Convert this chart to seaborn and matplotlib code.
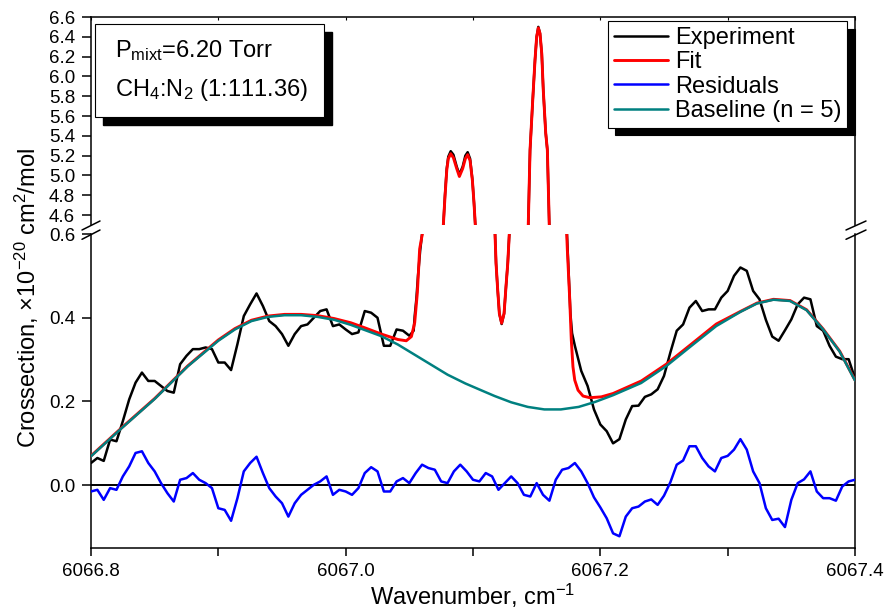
import numpy as np
import matplotlib
matplotlib.use("Agg")
import matplotlib.pyplot as plt
import seaborn as sns
from matplotlib.lines import Line2D
from matplotlib.patches import Rectangle
from matplotlib.ticker import FormatStrFormatter

W, H = 888, 610

# --- data -------------------------------------------------------------------
# sampling grid of the spectrum, 0.005 cm-1 step
wn_grid = np.linspace(6066.8, 6067.4, 121)

# experiment outside the absorption lines
exp_left = [0.053, 0.065, 0.058, 0.109, 0.105, 0.153, 0.205, 0.245, 0.269, 0.249,
            0.249, 0.237, 0.225, 0.221, 0.289, 0.309, 0.325, 0.325, 0.329, 0.325,
            0.293, 0.293, 0.275, 0.337, 0.404, 0.432, 0.458, 0.428, 0.392, 0.380,
            0.361, 0.333, 0.361, 0.380, 0.384, 0.400, 0.416, 0.420, 0.380, 0.384,
            0.372, 0.361, 0.365, 0.416, 0.412, 0.400, 0.333, 0.333, 0.372, 0.369,
            0.357]
exp_right = [0.333, 0.273, 0.237, 0.181, 0.145, 0.129, 0.100, 0.110, 0.157, 0.189,
             0.190, 0.211, 0.217, 0.229, 0.261, 0.317, 0.369, 0.384, 0.424, 0.440,
             0.416, 0.420, 0.420, 0.448, 0.464, 0.500, 0.520, 0.512, 0.464, 0.444,
             0.395, 0.355, 0.345, 0.370, 0.396, 0.432, 0.448, 0.444, 0.380, 0.369,
             0.333, 0.307, 0.301, 0.301, 0.255]

# experiment across the lines
peak_wn = [6067.0534, 6067.0542, 6067.0555, 6067.0568, 6067.0585, 6067.0600,
           6067.0767, 6067.0780, 6067.0794, 6067.0806, 6067.0825, 6067.0846,
           6067.0872, 6067.0893, 6067.0919, 6067.0940, 6067.0958, 6067.0977,
           6067.0995, 6067.1008, 6067.1018,
           6067.1173, 6067.1181, 6067.1194, 6067.1207, 6067.1225, 6067.1244,
           6067.1259, 6067.1273, 6067.1285,
           6067.1434, 6067.1448, 6067.1469, 6067.1487, 6067.1500, 6067.1513,
           6067.1526, 6067.1540, 6067.1552, 6067.1571, 6067.1584, 6067.1599,
           6067.1738, 6067.1752, 6067.1765, 6067.1778]
peak_exp = [0.369, 0.404, 0.444, 0.500, 0.560, 0.600,
            4.5, 4.80, 5.07, 5.19, 5.245, 5.21, 5.09, 5.01, 5.09, 5.20, 5.235, 5.17,
            4.96, 4.72, 4.5,
            0.6, 0.53, 0.466, 0.41, 0.385, 0.41, 0.474, 0.53, 0.6,
            4.5, 5.257, 5.76, 6.166, 6.40, 6.50, 6.435, 6.23, 5.86, 5.43, 5.257, 4.5,
            0.6, 0.50, 0.41, 0.363]

fit_wn = [6066.800, 6066.824, 6066.850, 6066.876, 6066.900, 6066.913, 6066.926,
          6066.939, 6066.952, 6066.965, 6066.978, 6066.991, 6067.004, 6067.015,
          6067.028, 6067.041, 6067.0476, 6067.0516, 6067.0542, 6067.0563,
          6067.0581, 6067.0602,
          6067.0767, 6067.0780, 6067.0794, 6067.0806, 6067.0825, 6067.0846,
          6067.0872, 6067.0893, 6067.0919, 6067.0940, 6067.0958, 6067.0977,
          6067.0995, 6067.1008, 6067.1018,
          6067.1173, 6067.1181, 6067.1194, 6067.1207, 6067.1225, 6067.1244,
          6067.1259, 6067.1273, 6067.1285,
          6067.1434, 6067.1448, 6067.1469, 6067.1487, 6067.1500, 6067.1513,
          6067.1526, 6067.1540, 6067.1552, 6067.1571, 6067.1584, 6067.1599,
          6067.1736, 6067.1741, 6067.1760, 6067.1772, 6067.1785, 6067.1799,
          6067.1825, 6067.1864, 6067.1917, 6067.2008, 6067.2100, 6067.2322,
          6067.2518, 6067.2715, 6067.2911, 6067.310, 6067.323, 6067.336,
          6067.349, 6067.362, 6067.375, 6067.388, 6067.400]
fit_val = [0.070, 0.137, 0.207, 0.285, 0.347, 0.374, 0.394,
           0.404, 0.408, 0.408, 0.405, 0.398, 0.388, 0.376,
           0.361, 0.348, 0.345, 0.355, 0.388, 0.460,
           0.564, 0.600,
           4.5, 4.786, 5.055, 5.17, 5.22, 5.18, 5.07, 4.99, 5.07, 5.17, 5.21, 5.15,
           4.954, 4.72, 4.5,
           0.6, 0.53, 0.466, 0.41, 0.387, 0.41, 0.474, 0.53, 0.6,
           4.5, 5.257, 5.76, 6.166, 6.40, 6.49, 6.435, 6.23, 5.86, 5.43, 5.257, 4.5,
           0.600, 0.562, 0.442, 0.347, 0.283, 0.251,
           0.227, 0.213, 0.209, 0.211, 0.219, 0.249,
           0.289, 0.337, 0.385, 0.415, 0.435, 0.444,
           0.441, 0.419, 0.373, 0.320, 0.251]

residuals = [-0.015, -0.011, -0.035, -0.007, -0.011, 0.021, 0.045, 0.077, 0.081, 0.053,
             0.033, 0.005, -0.019, -0.039, 0.013, 0.017, 0.029, 0.013, 0.005, -0.007,
             -0.055, -0.059, -0.085, -0.031, 0.033, 0.053, 0.068, 0.029, -0.007, -0.027,
             -0.043, -0.075, -0.043, -0.023, -0.011, 0.001, 0.009, 0.021, -0.023, -0.011,
             -0.015, -0.023, -0.007, 0.029, 0.043, 0.033, -0.015, -0.015, 0.009, 0.017,
             0.005, 0.029, 0.049, 0.041, 0.037, 0.009, 0.005, 0.033, 0.049, 0.033,
             0.013, 0.009, 0.029, 0.021, -0.011, 0.005, 0.021, 0.005, -0.023, -0.027,
             0.005, -0.023, -0.037, 0.013, 0.037, 0.041, 0.053, 0.033, 0.005, -0.029,
             -0.053, -0.079, -0.115, -0.122, -0.075, -0.055, -0.051, -0.039, -0.034, -0.047,
             -0.025, 0.007, 0.049, 0.059, 0.093, 0.093, 0.065, 0.045, 0.033, 0.065,
             0.070, 0.085, 0.110, 0.085, 0.033, 0.005, -0.055, -0.083, -0.080, -0.100,
             -0.035, 0.005, 0.014, 0.033, -0.015, -0.031, -0.031, -0.037, -0.003, 0.009,
             0.013]

base_wn = [6066.800, 6066.824, 6066.850, 6066.876, 6066.900, 6066.913, 6066.926,
           6066.939, 6066.952, 6066.965, 6066.978, 6066.991, 6067.004, 6067.028,
           6067.041, 6067.054, 6067.067, 6067.080, 6067.094, 6067.107, 6067.117,
           6067.130, 6067.143, 6067.156, 6067.169, 6067.183, 6067.196, 6067.210,
           6067.232, 6067.252, 6067.272, 6067.291, 6067.310, 6067.323, 6067.336,
           6067.349, 6067.362, 6067.375, 6067.388, 6067.400]
base_val = [0.069, 0.136, 0.206, 0.284, 0.345, 0.372, 0.392,
            0.402, 0.406, 0.406, 0.402, 0.395, 0.383, 0.356,
            0.336, 0.312, 0.288, 0.264, 0.243, 0.226, 0.213,
            0.198, 0.187, 0.181, 0.181, 0.187, 0.199, 0.215,
            0.244, 0.285, 0.334, 0.380, 0.414, 0.434, 0.443,
            0.440, 0.418, 0.372, 0.319, 0.250]

x_major = [6066.8, 6067.0, 6067.2, 6067.4]
x_all = [6066.8, 6066.9, 6067.0, 6067.1, 6067.2, 6067.3, 6067.4]
y_up_ticks = [4.6, 4.8, 5.0, 5.2, 5.4, 5.6, 5.8, 6.0, 6.2, 6.4, 6.6]
y_lo_ticks = [0.0, 0.2, 0.4, 0.6]

legend_labels = ["Experiment", "Fit", "Residuals", "Baseline (n = 5)"]
colors = ["black", "red", "blue", "#008080"]
widths = [1.8, 2.1, 1.8, 1.8]

exp_wn = np.concatenate([wn_grid[:51], peak_wn, wn_grid[76:]])
exp_val = np.concatenate([exp_left, peak_exp, exp_right])

# --- style --------------------------------------------------------------------
sns.set_theme(style="ticks", rc={"axes.edgecolor": "black", "xtick.color": "black",
                                 "ytick.color": "black", "text.color": "black",
                                 "axes.labelcolor": "black"})
plt.rcParams["font.family"] = ["Liberation Sans", "DejaVu Sans"]
plt.rcParams["mathtext.fontset"] = "custom"
plt.rcParams["mathtext.rm"] = "Liberation Sans"
plt.rcParams["mathtext.it"] = "Liberation Sans:italic"
plt.rcParams["mathtext.bf"] = "Liberation Sans:bold"


def fx(px):
    return px / W


def fy(py):
    return 1 - py / H


fig = plt.figure(figsize=(W / 100, H / 100), dpi=100)
ax_up = fig.add_axes([fx(91), fy(225), (855 - 91) / W, (225 - 17) / H])
ax_lo = fig.add_axes([fx(91), fy(548), (855 - 91) / W, (548 - 234) / H])

line_kw = dict(sort=False, estimator=None, errorbar=None)
for ax in (ax_up, ax_lo):
    sns.lineplot(x=exp_wn, y=exp_val, ax=ax, color=colors[0], lw=widths[0], zorder=3, **line_kw)
    sns.lineplot(x=fit_wn, y=fit_val, ax=ax, color=colors[1], lw=widths[1], zorder=4, **line_kw)
ax_lo.axhline(0, color="black", lw=1.4, zorder=2)
sns.lineplot(x=wn_grid, y=residuals, ax=ax_lo, color=colors[2], lw=widths[2], zorder=5, **line_kw)
sns.lineplot(x=base_wn, y=base_val, ax=ax_lo, color=colors[3], lw=widths[3], zorder=6, **line_kw)

for ax in (ax_up, ax_lo):
    ax.set_xlim(6066.8, 6067.4)
    ax.set_xlabel("")
    ax.set_ylabel("")
    for sp in ax.spines.values():
        sp.set_linewidth(1.1)
        sp.set_color("black")
    ax.yaxis.set_major_formatter(FormatStrFormatter("%.1f"))
    ax.tick_params(axis="y", direction="out", length=6.5, width=1.1, pad=5,
                   labelsize=13.5, right=False)

ax_up.set_ylim(4.5, 6.6)
ax_lo.set_ylim(-0.15, 0.6)
ax_up.spines["bottom"].set_visible(False)
ax_lo.spines["top"].set_visible(False)
ax_up.set_yticks(y_up_ticks)
ax_lo.set_yticks(y_lo_ticks)

ax_up.set_xticks(x_all)
ax_up.tick_params(axis="x", bottom=False, labelbottom=False, top=True,
                  direction="in", length=2.5, width=0.8)
ax_lo.set_xticks(x_major)
ax_lo.set_xticks([v for v in x_all if v not in x_major], minor=True)
ax_lo.xaxis.set_major_formatter(FormatStrFormatter("%.1f"))
ax_lo.tick_params(axis="x", which="both", direction="out", length=6, width=1.1,
                  pad=5, labelsize=13.5, top=False)

# axis titles
fig.text(fx(472.5), fy(605), r"Wavenumber, cm$^{-1}$", ha="center", va="baseline",
         fontsize=17)
fig.text(fx(35.5), fy(298), r"Crossection, ×10$^{-20}$ cm$^2$/mol", rotation=90,
         rotation_mode="anchor", ha="center", va="baseline", fontsize=17)

# axis break marks
for x0, x1 in ((82, 100), (846, 866)):
    for y0, y1 in ((230, 221), (239.3, 230)):
        fig.add_artist(Line2D([fx(x0), fx(x1)], [fy(y0), fy(y1)], color="black",
                              lw=1.1, transform=fig.transFigure))

# legend with solid drop shadow
handles = [Line2D([], [], color=c, lw=w) for c, w in zip(colors, widths)]
leg = ax_up.legend(handles, legend_labels, loc="upper right",
                   bbox_to_anchor=(fx(847.3), fy(21)), bbox_transform=fig.transFigure,
                   fontsize=17, frameon=True, fancybox=False, framealpha=1,
                   edgecolor="black", borderpad=0.25, labelspacing=0.1,
                   handlelength=2.3, handletextpad=0.3, borderaxespad=0,
                   shadow={"ox": 5.4, "oy": -5.4, "color": "black", "alpha": 1})
leg.get_frame().set_linewidth(0.8)

# conditions box
bw, bh = (324.3 - 95) / W, (117.3 - 24) / H
fig.add_artist(Rectangle((fx(102.5), fy(125)), bw, bh, transform=fig.transFigure,
                         facecolor="black", edgecolor="black", zorder=5))
fig.add_artist(Rectangle((fx(95), fy(117.3)), bw, bh, transform=fig.transFigure,
                         facecolor="white", edgecolor="black", lw=0.8, zorder=6))
fig.text(fx(115), fy(57), r"P$_{\mathrm{mixt}}$=6.20 Torr", va="baseline",
         fontsize=17, zorder=7)
fig.text(fx(115), fy(96), r"CH$_4$:N$_2$ (1:111.36)", va="baseline",
         fontsize=17, zorder=7)

fig.savefig("out.png", dpi=100)
